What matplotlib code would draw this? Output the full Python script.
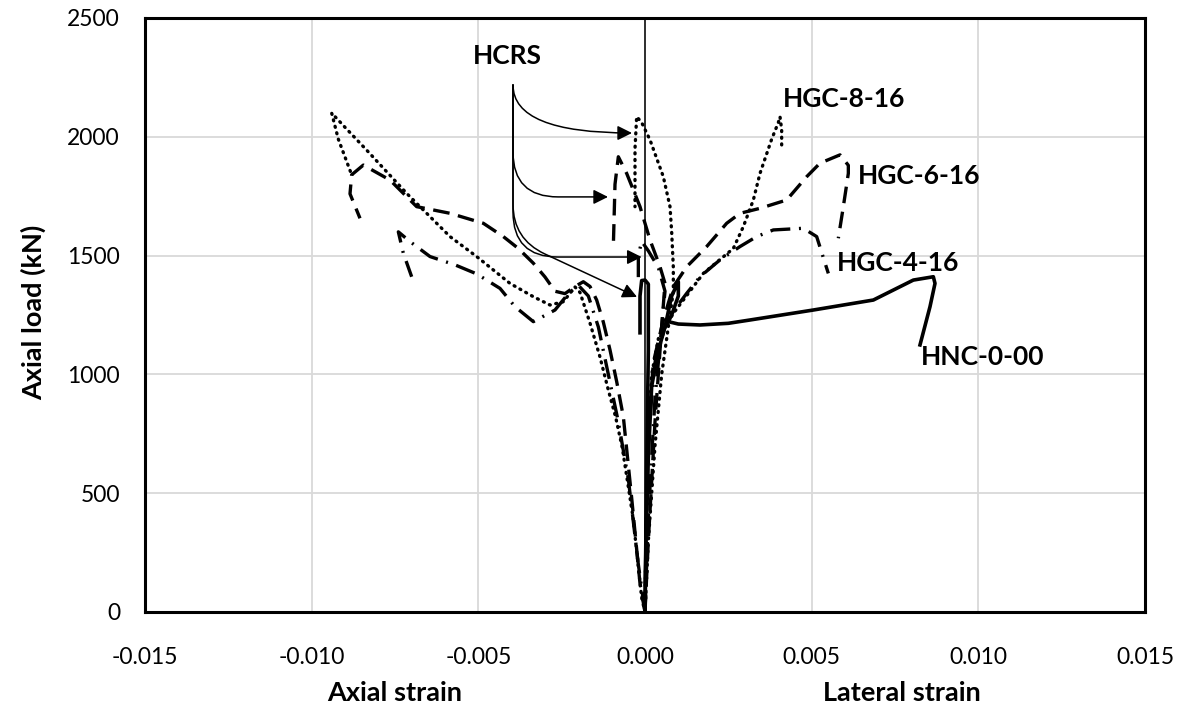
import matplotlib
matplotlib.use("Agg")
import matplotlib.pyplot as plt
import numpy as np

plt.rcParams['font.family'] = ['Lato', 'DejaVu Sans']

# HGC-8-16 (dotted)
g8_axial_x = [0, -0.0001, -0.00036, -0.00068, -0.00088, -0.0011, -0.00135, -0.00165, -0.00195, -0.0021,
              -0.00245, -0.00285, -0.00335, -0.00405, -0.00505, -0.00585, -0.00665, -0.00715, -0.00835,
              -0.0090, -0.0094, -0.0092, -0.0088]
g8_axial_y = [0, 60, 400, 690, 820, 934, 1073, 1216, 1345, 1368, 1306, 1292, 1327, 1383, 1496, 1580,
              1692, 1762, 1944, 2040, 2100, 1990, 1840]
g8_lat_x = [0, 0.00003, 0.00008, 0.0002, 0.0004, 0.00085, 0.00115, 0.00175, 0.00265, 0.00295, 0.00325,
            0.00345, 0.0038, 0.004, 0.00405, 0.0041, 0.0041]
g8_lat_y = [0, 300, 700, 1000, 1150, 1257, 1313, 1425, 1530, 1622, 1734, 1846, 1990, 2060, 2085, 2030, 1958]
g8_hcrs_x = [0, 0.0001, 0.0003, 0.0005, 0.0007, 0.00085, 0.00085, 0.0008, 0.00075, 0.00055, 0.00015,
             -0.0001, -0.00025, -0.0003, -0.0003]
g8_hcrs_y = [0, 300, 700, 1000, 1200, 1350, 1450, 1600, 1706, 1832, 1987, 2060, 2085, 1950, 1706]

# HGC-6-16 (dashed)
g6_axial_x = [0, -0.00015, -0.0004, -0.00065, -0.00085, -0.00105, -0.00125, -0.00145, -0.00165, -0.00185,
              -0.0021, -0.0024, -0.0027, -0.003, -0.00335, -0.0038, -0.00425, -0.00485, -0.00585, -0.00685,
              -0.00765, -0.00845, -0.0088, -0.00885, -0.00855]
g6_axial_y = [0, 120, 480, 822, 970, 1103, 1220, 1313, 1370, 1390, 1370, 1340, 1350, 1410, 1468, 1530,
              1580, 1636, 1678, 1706, 1818, 1881, 1840, 1760, 1657]
g6_lat_x = [0, 0.00003, 0.0001, 0.00025, 0.0005, 0.0007, 0.00085, 0.00125, 0.00185, 0.00245, 0.00285,
            0.00345, 0.00425, 0.00485, 0.00525, 0.00585, 0.0061, 0.0061, 0.00595, 0.0058]
g6_lat_y = [0, 300, 750, 1050, 1200, 1300, 1369, 1453, 1538, 1636, 1678, 1699, 1734, 1832, 1889, 1924,
            1880, 1846, 1706, 1573]
g6_hcrs_x = [0, 0.0001, 0.0003, 0.0005, 0.0006, 0.00045, 0.00015, -0.00015, -0.00055, -0.0008, -0.0009,
             -0.00095]
g6_hcrs_y = [0, 300, 800, 1200, 1383, 1453, 1566, 1706, 1846, 1916, 1800, 1538]

# HGC-4-16 (dash-dot)
g4_axial_x = [0, -0.0002, -0.0005, -0.0008, -0.0011, -0.0014, -0.0017, -0.002, -0.0023, -0.0027,
              -0.00335, -0.0039, -0.00435, -0.00505, -0.0057, -0.00645, -0.00705, -0.0074, -0.00725, -0.007]
g4_axial_y = [0, 200, 560, 800, 1000, 1200, 1330, 1375, 1340, 1271, 1222, 1285, 1362, 1423, 1461, 1496,
              1559, 1600, 1510, 1411]
g4_lat_x = [0, 0.00003, 0.0001, 0.0003, 0.0006, 0.00095, 0.00125, 0.00165, 0.00225, 0.00285, 0.00335,
            0.00385, 0.00475, 0.00515, 0.0055]
g4_lat_y = [0, 300, 750, 1050, 1200, 1285, 1341, 1411, 1482, 1538, 1580, 1608, 1615, 1580, 1425]
g4_hcrs_x = [0, 0.0001, 0.0003, 0.0005, 0.0006, 0.0004, 0.0001, -0.0001, -0.0002, -0.0002]
g4_hcrs_y = [0, 400, 900, 1200, 1350, 1450, 1520, 1560, 1500, 1400]

# HNC-0-00 (solid)
nc_lat_x = [0, 0.00003, 0.0001, 0.0002, 0.0004, 0.0006, 0.0008, 0.001, 0.001, 0.0008, 0.0007, 0.001,
            0.00165, 0.0025, 0.00315, 0.00505, 0.00685, 0.00735, 0.00805, 0.00865, 0.0087, 0.00855, 0.00825]
nc_lat_y = [0, 300, 650, 950, 1100, 1200, 1330, 1390, 1330, 1250, 1222, 1212, 1208, 1215, 1229, 1271,
            1313, 1348, 1397, 1411, 1383, 1285, 1124]
nc_hcrs_x = [0, 0.00005, 0.0001, 0.0001, 0.0, -0.0001, -0.00015, -0.00015]
nc_hcrs_y = [0, 600, 1100, 1380, 1397, 1395, 1330, 1175]

# HCRS pointer arrows
hcrs_origin = (-0.00396, 2218)
hcrs_tips_x = [-0.00039, -0.00111, -0.0001, -0.00024]
hcrs_tips_y = [2016, 1747, 1494, 1326]

x_ticks = [-0.015, -0.010, -0.005, 0.000, 0.005, 0.010, 0.015]
y_ticks = [0, 500, 1000, 1500, 2000, 2500]

fig = plt.figure(figsize=(11.82, 7.09), dpi=100)
ax = fig.add_axes([145 / 1182, 97 / 709, 1000 / 1182, 594 / 709])

lw = 2.4
dotted = dict(color='black', lw=lw, linestyle=(0, (0.3, 1.7)), dash_capstyle='round')
dashed = dict(color='black', lw=lw, linestyle=(0, (5, 2.6)))
dashdot = dict(color='black', lw=lw, linestyle=(0, (6, 2.6, 0.6, 2.6)))
solid = dict(color='black', lw=2.6)

ax.axvline(0, color='black', lw=1.1, zorder=1.5)

ax.plot(g8_axial_x, g8_axial_y, **dotted)
ax.plot(g8_lat_x, g8_lat_y, **dotted)
ax.plot(g8_hcrs_x, g8_hcrs_y, **dotted)
ax.plot(g6_axial_x, g6_axial_y, **dashed)
ax.plot(g6_lat_x, g6_lat_y, **dashed)
ax.plot(g6_hcrs_x, g6_hcrs_y, **dashed)
ax.plot(g4_axial_x, g4_axial_y, **dashdot)
ax.plot(g4_lat_x, g4_lat_y, **dashdot)
ax.plot(g4_hcrs_x, g4_hcrs_y, **dashdot)
ax.plot(nc_lat_x, nc_lat_y, **solid)
ax.plot(nc_hcrs_x, nc_hcrs_y, **solid)

styles = ["angle3,angleA=-90,angleB=0",
          "angle,angleA=-90,angleB=180,rad=45",
          "angle,angleA=-90,angleB=180,rad=45",
          "angle,angleA=-90,angleB=155,rad=35"]
for tx, ty, cs in zip(hcrs_tips_x, hcrs_tips_y, styles):
    ax.annotate("", xy=(tx, ty), xytext=hcrs_origin,
                arrowprops=dict(arrowstyle='-|>', connectionstyle=cs, color='black',
                                lw=1.1, mutation_scale=22, shrinkA=0, shrinkB=0))

lab = dict(fontsize=19, fontweight='bold', va='center')
ax.text(-0.00414, 2340, "HCRS", ha='center', **lab)
ax.text(0.00414, 2159, "HGC-8-16", ha='left', **lab)
ax.text(0.00639, 1835, "HGC-6-16", ha='left', **lab)
ax.text(0.00576, 1469, "HGC-4-16", ha='left', **lab)
ax.text(0.00828, 1073, "HNC-0-00", ha='left', **lab)

ax.set_xlim(-0.015, 0.015)
ax.set_ylim(0, 2500)
ax.set_xticks(x_ticks)
ax.set_xticklabels([f"{v:.3f}" for v in x_ticks])
ax.set_yticks(y_ticks)
ax.tick_params(axis='both', length=0, labelsize=16.5)
ax.tick_params(axis='x', pad=25)
ax.tick_params(axis='y', pad=18)
ax.grid(True, color='#d9d9d9', lw=1.3)
ax.set_axisbelow(True)
for s in ax.spines.values():
    s.set_linewidth(2.2)
    s.set_color('black')

xt = ax.get_xaxis_transform()
ax.text(-0.0075, -0.136, "Axial strain", transform=xt, ha='center', va='center',
        fontsize=19.5, fontweight='bold')
ax.text(0.0077, -0.136, "Lateral strain", transform=xt, ha='center', va='center',
        fontsize=19.5, fontweight='bold')
fig.text(33 / 1182, 1 - 312 / 709, "Axial load (kN)", rotation=90, ha='center', va='center',
         fontsize=19.5, fontweight='bold')

fig.savefig("out.png", dpi=100)
